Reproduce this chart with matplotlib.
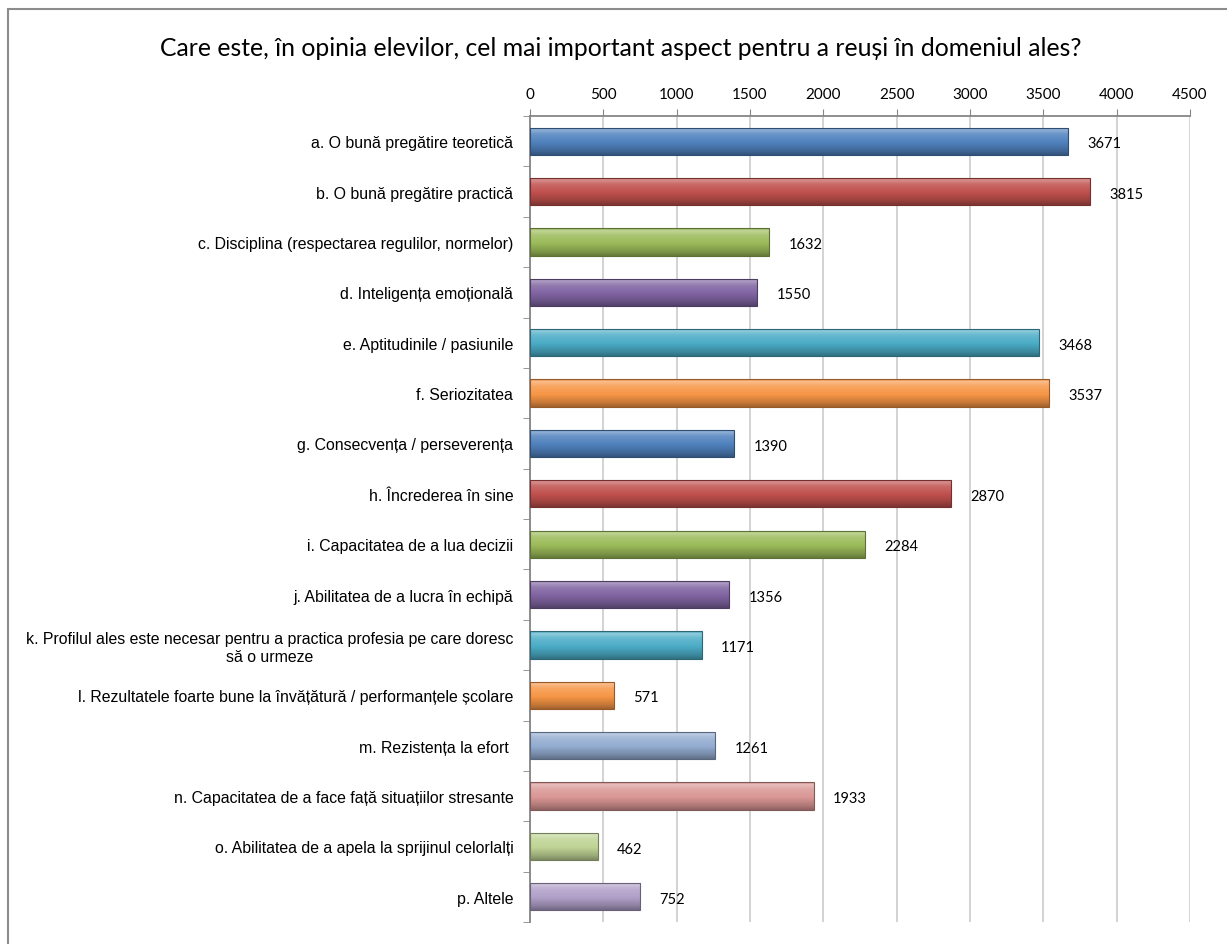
import matplotlib.pyplot as plt
import numpy as np
from matplotlib.colors import to_rgb
from matplotlib.patches import Rectangle
from matplotlib.ticker import FixedLocator

# Survey answers (number of students per answer)
labels = [
    'a. O bună pregătire teoretică',
    'b. O bună pregătire practică',
    'c. Disciplina (respectarea regulilor, normelor)',
    'd. Inteligența emoțională',
    'e. Aptitudinile / pasiunile',
    'f. Seriozitatea',
    'g. Consecvența / perseverența',
    'h. Încrederea în sine',
    'i. Capacitatea de a lua decizii',
    'j. Abilitatea de a lucra în echipă',
    'k. Profilul ales este necesar pentru a practica profesia pe care doresc\nsă o urmeze',
    'l. Rezultatele foarte bune la învățătură / performanțele școlare',
    'm. Rezistența la efort ',
    'n. Capacitatea de a face față situațiilor stresante',
    'o. Abilitatea de a apela la sprijinul celorlalți',
    'p. Altele',
]
values = [3671, 3815, 1632, 1550, 3468, 3537, 1390, 2870, 2284, 1356,
          1171, 571, 1261, 1933, 462, 752]
colors = ['#4F81BD', '#C0504D', '#9BBB59', '#8064A2', '#4BACC6', '#F79646',
          '#4F81BD', '#C0504D', '#9BBB59', '#8064A2', '#4BACC6', '#F79646',
          '#93ACD0', '#D99694', '#BFD495', '#B0A0C8']
title = 'Care este, în opinia elevilor, cel mai important aspect pentru a reuși în domeniul ales?'
xticks = np.arange(0, 4501, 500)


def shade(c, f):
    c = np.array(to_rgb(c))
    if f >= 1:
        return c + (1 - c) * (f - 1)
    return c * f


# vertical shading profile of the "glossy" Excel bars (top -> bottom)
stops_t = [0.0, 0.07, 0.25, 0.55, 0.85, 1.0]
stops_f = [0.75, 1.4, 1.15, 1.0, 0.8, 0.65]

fig = plt.figure(figsize=(12.27, 9.45), dpi=100)
ax = fig.add_axes([530 / 1227, 1 - 923 / 945, 660 / 1227, (923 - 117) / 945])

y = np.arange(len(values))
bars = ax.barh(y, values, height=0.54, color=colors, zorder=3)

t = np.linspace(0, 1, 64)
fac = np.interp(t, stops_t, stops_f)
for bar, c in zip(bars, colors):
    img = np.array([shade(c, f) for f in fac])[:, None, :]
    x0, y0 = bar.get_x(), bar.get_y()
    w, h = bar.get_width(), bar.get_height()
    im = ax.imshow(img, extent=(x0, x0 + w, y0 + h, y0), aspect='auto',
                   interpolation='bicubic', zorder=4)
    im.set_clip_path(bar)
    edge = Rectangle((x0, y0), w, h, fill=False, ec=shade(c, 0.6), lw=0.8, zorder=5)
    ax.add_patch(edge)

for i, v in enumerate(values):
    ax.annotate(str(v), (v, i), xytext=(14, -1.5), textcoords='offset points',
                va='center', ha='left', fontsize=10.5, family='Lato')

ax.set_xlim(0, 4500)
ax.set_ylim(len(values) - 0.5, -0.5)
ax.set_xticks(xticks)
ax.xaxis.tick_top()
ax.tick_params(axis='x', length=5, color='#868686', labelsize=11, pad=6)
for lab in ax.get_xticklabels():
    lab.set_family('Lato')
ax.grid(axis='x', color='#d0d0d0', lw=1.3, zorder=0)

ax.set_yticks(y)
ax.set_yticklabels(labels, fontsize=11.4, family='Liberation Sans',
                   multialignment='center')
ax.yaxis.set_minor_locator(FixedLocator(np.arange(-0.5, len(values), 1)))
ax.tick_params(axis='y', which='major', length=0, pad=12)
ax.tick_params(axis='y', which='minor', length=5, color='#868686')

for s in ['right', 'bottom']:
    ax.spines[s].set_visible(False)
for s in ['top', 'left']:
    ax.spines[s].set_color('#868686')
    ax.spines[s].set_linewidth(1.3)

fig.text(0.506, 1 - 49 / 945, title, ha='center', va='center', fontsize=17.8,
         family='Lato')

fig.patches.append(Rectangle((8 / 1227, -0.05), 1.2, 1 - 10 / 945 + 0.05,
                             transform=fig.transFigure, fill=False,
                             ec='#8c8c8c', lw=1.5))

fig.savefig('out.png', dpi=100)
